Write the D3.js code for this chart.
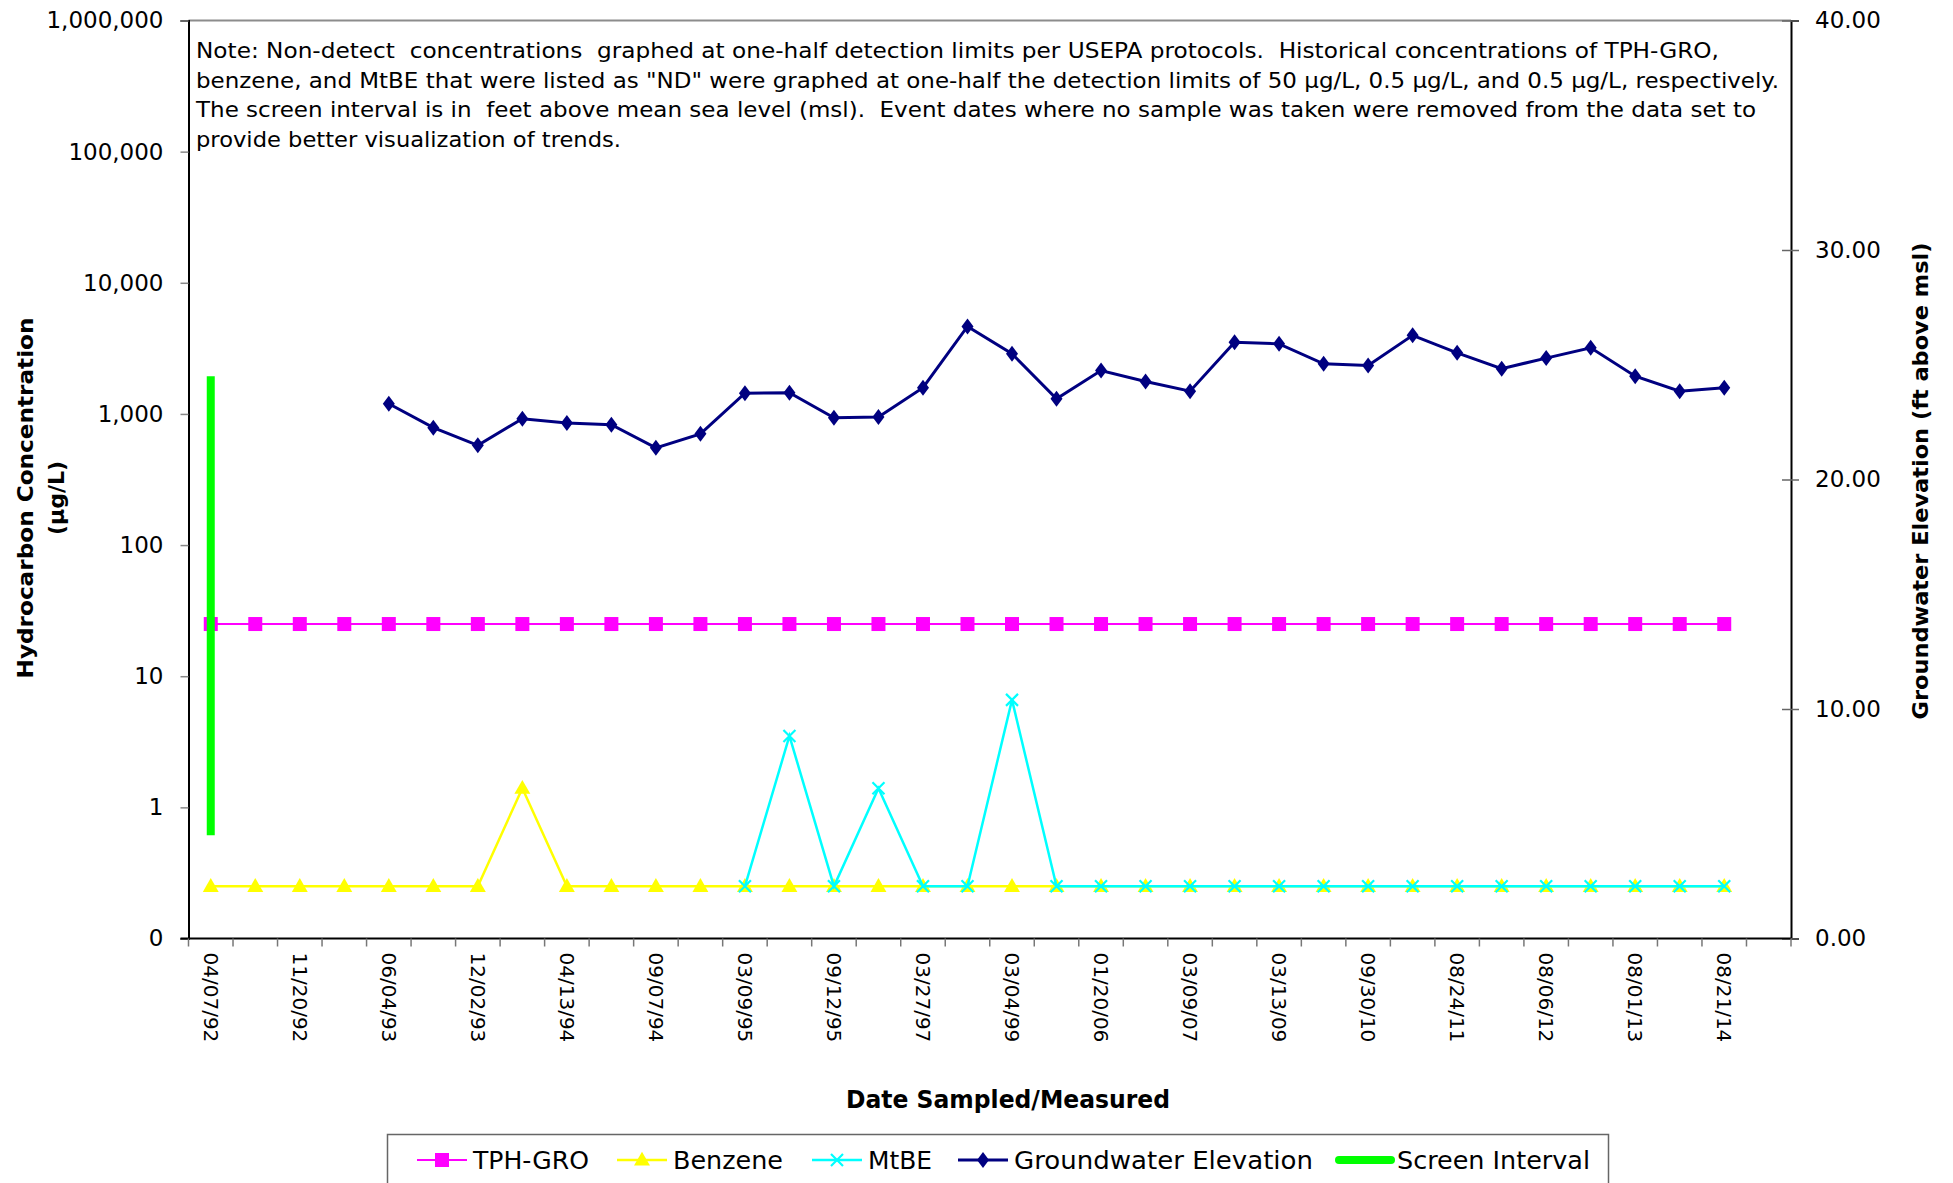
<!DOCTYPE html>
<html>
<head>
<meta charset="utf-8">
<script src="https://cdn.jsdelivr.net/npm/d3@7"></script>
<style>
  html, body { margin: 0; padding: 0; background: #fff; }
  svg { display: block; }
  text { font-family: "DejaVu Sans", sans-serif; fill: #000; }
</style>
</head>
<body>
<svg id="chart" width="1953" height="1183"></svg>
<script>
// ---------------- DATA ----------------
// 36 category slots (last one empty); only every other date is labelled on the axis
const dateLabels = ["04/07/92", null, "11/20/92", null, "06/04/93", null, "12/02/93", null,
  "04/13/94", null, "09/07/94", null, "03/09/95", null, "09/12/95", null, "03/27/97", null,
  "03/04/99", null, "01/20/06", null, "03/09/07", null, "03/13/09", null, "09/30/10", null,
  "08/24/11", null, "08/06/12", null, "08/01/13", null, "08/21/14", null];

const tphGro = [25,25,25,25,25,25,25,25,25,25,25,25,25,25,25,25,25,25,
  25,25,25,25,25,25,25,25,25,25,25,25,25,25,25,25,25];
const benzene = [0.25,0.25,0.25,0.25,0.25,0.25,0.25,1.4,0.25,0.25,0.25,0.25,0.25,0.25,0.25,0.25,0.25,0.25,
  0.25,0.25,0.25,0.25,0.25,0.25,0.25,0.25,0.25,0.25,0.25,0.25,0.25,0.25,0.25,0.25,0.25];
const mtbe = [null,null,null,null,null,null,null,null,null,null,null,null,
  0.25,3.5,0.25,1.4,0.25,0.25,6.6,0.25,0.25,0.25,0.25,0.25,0.25,0.25,0.25,0.25,0.25,0.25,0.25,0.25,0.25,0.25,0.25];
const gwElevation = [null,null,null,null,
  23.30,22.26,21.49,22.65,22.46,22.39,21.38,21.99,23.76,23.78,22.69,22.72,24.00,26.67,
  25.48,23.52,24.75,24.27,23.85,25.98,25.91,25.04,24.97,26.28,25.52,24.83,25.29,25.74,24.50,23.85,24.00];
const screenInterval = [4.5, 24.5];   // ft above msl, at first event
const screenIndex = 0;

const leftTicks = [0.1, 1, 10, 100, 1000, 10000, 100000, 1000000];
const leftTickLabels = ["0", "1", "10", "100", "1,000", "10,000", "100,000", "1,000,000"];
const rightTicks = [0, 10, 20, 30, 40];

const noteLines = [
  "Note: Non-detect  concentrations  graphed at one-half detection limits per USEPA protocols.  Historical concentrations of TPH-GRO,",
  "benzene, and MtBE that were listed as \"ND\" were graphed at one-half the detection limits of 50 µg/L, 0.5 µg/L, and 0.5 µg/L, respectively.",
  "The screen interval is in  feet above mean sea level (msl).  Event dates where no sample was taken were removed from the data set to",
  "provide better visualization of trends."
];

// ---------------- LAYOUT ----------------
const svg = d3.select("#chart");
const L = 188.5, R = 1791, T = 20.5, B = 938.5;

const x = d3.scaleBand().domain(d3.range(dateLabels.length)).range([L, R]).paddingInner(0).paddingOuter(0);
const cx = i => x(i) + x.bandwidth() / 2;
const yL = d3.scaleLog().domain([0.1, 1000000]).range([B, T]);
const yR = d3.scaleLinear().domain([0, 40]).range([B, T]);

// plot area top border (gray)
svg.append("line").attr("x1", L).attr("x2", R).attr("y1", T).attr("y2", T)
  .attr("stroke", "#8c8c8c").attr("stroke-width", 2);

// left axis
const gL = svg.append("g").attr("transform", `translate(${L},0)`)
  .call(d3.axisLeft(yL).tickValues(leftTicks).tickSize(8).tickPadding(17)
    .tickFormat((d, i) => leftTickLabels[i]));
gL.select(".domain").attr("stroke", "#000").attr("stroke-width", 2);
gL.selectAll(".tick line").attr("stroke", "#888").attr("stroke-width", 1.5);
gL.selectAll(".tick text").attr("font-size", 23).attr("font-family", "DejaVu Sans").attr("fill", "#111");

// right axis (ticks cross)
const gR = svg.append("g").attr("transform", `translate(${R},0)`)
  .call(d3.axisRight(yR).tickValues(rightTicks).tickSize(8).tickPadding(16).tickFormat(d3.format(".2f")));
gR.select(".domain").attr("stroke", "#000").attr("stroke-width", 2);
gR.selectAll(".tick line").attr("x1", -9).attr("x2", 8).attr("stroke", "#666").attr("stroke-width", 1.5);
gR.selectAll(".tick text").attr("font-size", 23).attr("font-family", "DejaVu Sans").attr("fill", "#111");

// bottom axis: ticks at band boundaries
const gB = svg.append("g").attr("transform", `translate(0,${B})`);
gB.append("line").attr("x1", L - 8).attr("x2", R).attr("y1", 0).attr("y2", 0)
  .attr("stroke", "#000").attr("stroke-width", 2);
const bounds = d3.range(dateLabels.length + 1).map(i => i < dateLabels.length ? x(i) : R);
gB.selectAll("line.tk").data(bounds).join("line").attr("class", "tk")
  .attr("x1", d => d).attr("x2", d => d).attr("y1", 0).attr("y2", 8)
  .attr("stroke", "#777").attr("stroke-width", 1.5);
gB.selectAll("text.dl").data(dateLabels.map((d, i) => ({ d, i })).filter(o => o.d))
  .join("text").attr("class", "dl")
  .attr("transform", o => `translate(${cx(o.i)},${14}) rotate(90)`)
  .attr("dy", "0.35em").attr("font-size", 20).attr("fill", "#111")
  .text(o => o.d);

// ---------------- SERIES ----------------
const lineL = d3.line().defined(d => d.v != null).x(d => cx(d.i)).y(d => yL(d.v));
const lineR = d3.line().defined(d => d.v != null).x(d => cx(d.i)).y(d => yR(d.v));
const pts = arr => arr.map((v, i) => ({ v, i }));

// TPH-GRO
svg.append("path").datum(pts(tphGro)).attr("d", lineL).attr("fill", "none")
  .attr("stroke", "#ff00ff").attr("stroke-width", 2);
svg.append("g").selectAll("rect").data(pts(tphGro).filter(d => d.v != null)).join("rect")
  .attr("x", d => cx(d.i) - 7).attr("y", d => yL(d.v) - 7).attr("width", 14).attr("height", 14)
  .attr("fill", "#ff00ff");

// Benzene
svg.append("path").datum(pts(benzene)).attr("d", lineL).attr("fill", "none")
  .attr("stroke", "#ffff00").attr("stroke-width", 2.5);
const tri = d3.symbol().type(d3.symbolTriangle).size(110);
svg.append("g").selectAll("path").data(pts(benzene).filter(d => d.v != null)).join("path")
  .attr("transform", d => `translate(${cx(d.i)},${yL(d.v) + 1})`).attr("d", tri)
  .attr("fill", "#ffff00");

// MtBE
svg.append("path").datum(pts(mtbe)).attr("d", lineL).attr("fill", "none")
  .attr("stroke", "#00ffff").attr("stroke-width", 2.5);
svg.append("g").selectAll("path").data(pts(mtbe).filter(d => d.v != null)).join("path")
  .attr("transform", d => `translate(${cx(d.i)},${yL(d.v)})`)
  .attr("d", "M-6,-6L6,6M-6,6L6,-6").attr("stroke", "#00ffff").attr("stroke-width", 2.2).attr("fill", "none");

// Groundwater elevation
svg.append("path").datum(pts(gwElevation)).attr("d", lineR).attr("fill", "none")
  .attr("stroke", "#000080").attr("stroke-width", 3);
svg.append("g").selectAll("path").data(pts(gwElevation).filter(d => d.v != null)).join("path")
  .attr("transform", d => `translate(${cx(d.i)},${yR(d.v)})`)
  .attr("d", "M0,-8L6,0L0,8L-6,0Z").attr("fill", "#000080");

// Screen interval
svg.append("line").attr("x1", cx(screenIndex)).attr("x2", cx(screenIndex))
  .attr("y1", yR(screenInterval[0])).attr("y2", yR(screenInterval[1]))
  .attr("stroke", "#00ff00").attr("stroke-width", 8);

// ---------------- TEXT ----------------
const noteWidths = [1523, 1583, 1560, 425];
svg.append("g").selectAll("text").data(noteLines).join("text")
  .attr("x", 196).attr("y", (d, i) => 58 + i * 29.5)
  .attr("font-size", 21).attr("fill", "#111")
  .attr("xml:space", "preserve").style("white-space", "pre")
  .attr("textLength", (d, i) => noteWidths[i]).attr("lengthAdjust", "spacingAndGlyphs")
  .text(d => d);

// axis titles
svg.append("text").attr("transform", "translate(33,498) rotate(-90)")
  .attr("text-anchor", "middle").attr("font-weight", "bold").attr("font-size", 22)
  .attr("font-family", "DejaVu Sans Condensed, DejaVu Sans")
  .attr("textLength", 361).attr("lengthAdjust", "spacingAndGlyphs")
  .text("Hydrocarbon Concentration");
svg.append("text").attr("transform", "translate(64,498) rotate(-90)")
  .attr("text-anchor", "middle").attr("font-weight", "bold").attr("font-size", 22)
  .attr("font-family", "DejaVu Sans Condensed, DejaVu Sans")
  .text("(µg/L)");
svg.append("text").attr("transform", "translate(1928,481) rotate(-90)")
  .attr("text-anchor", "middle").attr("font-weight", "bold").attr("font-size", 22)
  .attr("font-family", "DejaVu Sans Condensed, DejaVu Sans")
  .attr("textLength", 477).attr("lengthAdjust", "spacingAndGlyphs")
  .text("Groundwater Elevation (ft above msl)");
svg.append("text").attr("x", 1008).attr("y", 1108)
  .attr("text-anchor", "middle").attr("font-weight", "bold").attr("font-size", 24)
  .attr("font-family", "DejaVu Sans Condensed, DejaVu Sans")
  .attr("textLength", 324).attr("lengthAdjust", "spacingAndGlyphs")
  .text("Date Sampled/Measured");

// ---------------- LEGEND ----------------
svg.append("rect").attr("x", 387.5).attr("y", 1134.5).attr("width", 1221).attr("height", 60)
  .attr("fill", "#fff").attr("stroke", "#666").attr("stroke-width", 1.5);
const legendItems = [
  { name: "TPH-GRO", color: "#ff00ff", x0: 417, kind: "square", sw: 2, w: 116 },
  { name: "Benzene", color: "#ffff00", x0: 617, kind: "triangle", sw: 2.5, w: 110 },
  { name: "MtBE", color: "#00ffff", x0: 812, kind: "x", sw: 2.5, w: 64 },
  { name: "Groundwater Elevation", color: "#000080", x0: 958, kind: "diamond", sw: 3, w: 299 },
  { name: "Screen Interval", color: "#00ff00", x0: 1339, kind: "none", sw: 8, w: 193 }
];
const ly = 1160;
const lg = svg.append("g").selectAll("g").data(legendItems).join("g")
  .attr("transform", d => `translate(${d.x0},${ly})`);
lg.append("line").attr("x1", 0).attr("x2", d => d.kind === "none" ? 52 : 50).attr("y1", 0).attr("y2", 0)
  .attr("stroke", d => d.color).attr("stroke-width", d => d.sw)
  .attr("stroke-linecap", d => d.kind === "none" ? "round" : "butt");
lg.each(function(d) {
  const g = d3.select(this);
  if (d.kind === "square") g.append("rect").attr("x", 18).attr("y", -7).attr("width", 14).attr("height", 14).attr("fill", d.color);
  if (d.kind === "triangle") g.append("path").attr("transform", "translate(25,1)").attr("d", tri).attr("fill", d.color);
  if (d.kind === "x") g.append("path").attr("transform", "translate(25,0)").attr("d", "M-6,-6L6,6M-6,6L6,-6")
    .attr("stroke", d.color).attr("stroke-width", 2.2);
  if (d.kind === "diamond") g.append("path").attr("transform", "translate(25,0)").attr("d", "M0,-8L6,0L0,8L-6,0Z").attr("fill", d.color);
});
lg.append("text").attr("x", d => d.kind === "none" ? 58 : 56).attr("dy", "0.36em")
  .attr("font-size", 24).attr("fill", "#111")
  .attr("textLength", d => d.w).attr("lengthAdjust", "spacingAndGlyphs")
  .text(d => d.name);
</script>
</body>
</html>
